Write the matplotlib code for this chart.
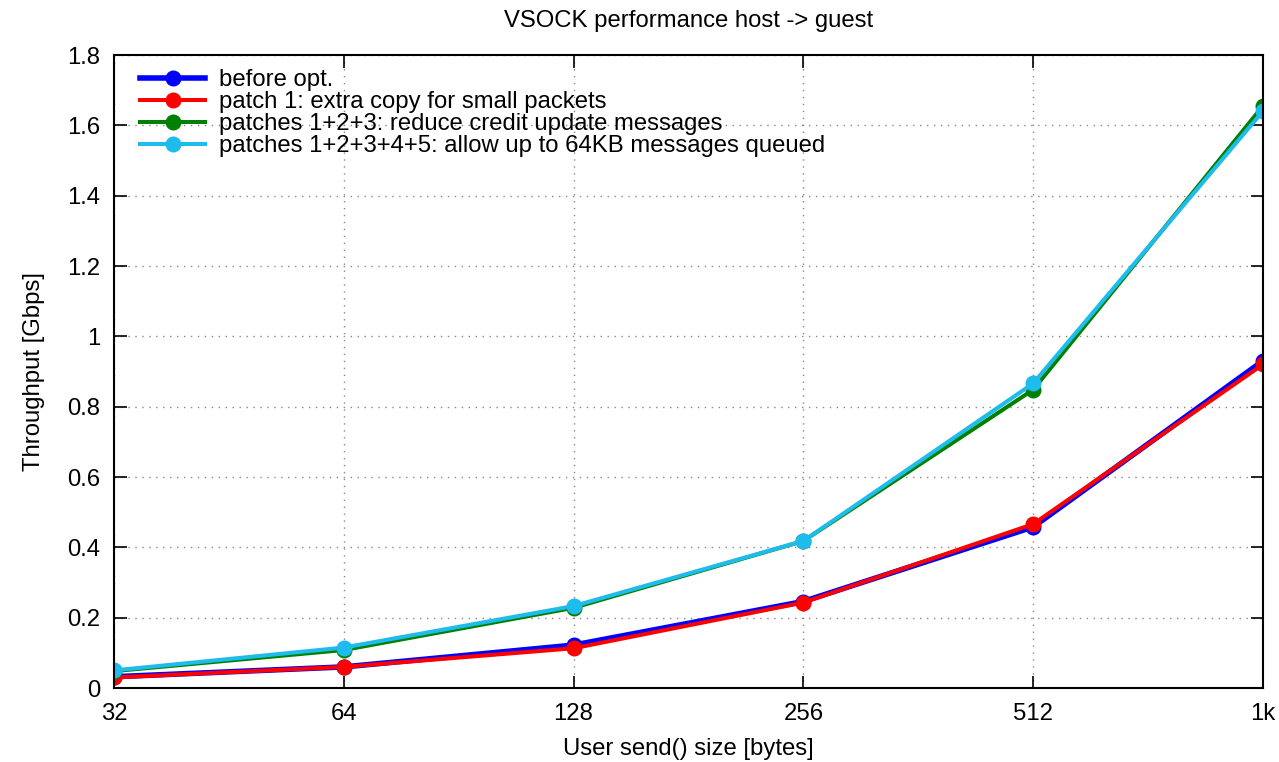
import matplotlib
matplotlib.use("Agg")
import matplotlib.pyplot as plt
from matplotlib.ticker import FixedLocator, NullLocator

plt.rcParams['font.family'] = ['Liberation Sans', 'DejaVu Sans']

sizes = [32, 64, 128, 256, 512, 1024]
size_labels = ["32", "64", "128", "256", "512", "1k"]

before_opt = [0.032, 0.060, 0.122, 0.246, 0.458, 0.930]
patch1 = [0.030, 0.060, 0.113, 0.243, 0.466, 0.920]
patches123 = [0.048, 0.108, 0.228, 0.418, 0.848, 1.655]
patches12345 = [0.050, 0.115, 0.233, 0.418, 0.866, 1.640]

series = [
    ("before opt.", before_opt, "#0000ff", 4.0),
    ("patch 1: extra copy for small packets", patch1, "#ff0000", 2.9),
    ("patches 1+2+3: reduce credit update messages", patches123, "#008000", 2.9),
    ("patches 1+2+3+4+5: allow up to 64KB messages queued", patches12345, "#1ebcec", 2.9),
]

FS = 17.2

fig = plt.figure(figsize=(12.79, 7.62), dpi=100)
ax = fig.add_axes([0.0891, 0.0971, 0.8983, 0.8307])

for label, vals, color, lw in series:
    ax.plot(sizes, vals, color=color, lw=lw, marker='o', markersize=11.5,
            markeredgewidth=0, label=label)

ax.set_xscale('log', base=2)
ax.set_xlim(32, 1024)
ax.set_ylim(0, 1.8)
ax.xaxis.set_major_locator(FixedLocator(sizes))
ax.xaxis.set_minor_locator(NullLocator())
ax.set_xticklabels(size_labels)
ax.set_yticks([0, 0.2, 0.4, 0.6, 0.8, 1.0, 1.2, 1.4, 1.6, 1.8])
ax.set_yticklabels(["0", "0.2", "0.4", "0.6", "0.8", "1", "1.2", "1.4", "1.6", "1.8"])

ax.tick_params(axis='both', which='major', direction='in', length=9, width=1.2,
               top=True, right=True, labelsize=FS, colors='black')
ax.tick_params(axis='x', pad=11)
ax.tick_params(axis='y', pad=10)
ax.grid(True, linestyle=(0, (1, 4)), color='#888888', linewidth=1.0)
for s in ax.spines.values():
    s.set_linewidth(1.5)

ax.set_title("VSOCK performance host -> guest", fontsize=FS, pad=20)
ax.set_xlabel("User send() size [bytes]", fontsize=FS, labelpad=9)
ax.set_ylabel("Throughput [Gbps]", fontsize=FS, labelpad=16)

leg = ax.legend(loc='upper left', frameon=False, fontsize=FS, handlelength=2.75,
                labelspacing=0.0, borderaxespad=0.2, handletextpad=0.55,
                bbox_to_anchor=(0.01, 1.0))

fig.savefig("out.png", dpi=100)
